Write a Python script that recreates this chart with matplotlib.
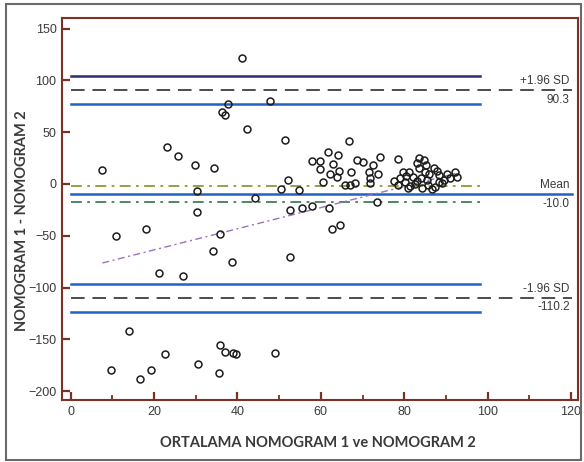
import numpy as np
import matplotlib
matplotlib.use("Agg")
import matplotlib.pyplot as plt
from matplotlib.patches import Rectangle
from matplotlib.ticker import MultipleLocator

# Average of the two nomograms vs. their difference (Bland-Altman)
mean_vals = [
    7.6, 10.8, 18.1, 23.1, 25.8, 29.8, 34.4, 30.3, 30.4, 36.4, 37.0, 37.7, 41.1, 42.3, 44.2,
    47.8, 51.4, 52.1, 50.5, 52.6, 54.8, 55.4, 58.0, 62.0, 62.7, 64.6, 52.6, 35.9, 34.2, 38.6,
    21.1, 27.0, 13.9, 35.8, 37.0, 38.9, 39.7, 22.7, 30.6, 9.7, 19.2, 35.5, 16.5, 49.0,
    66.7, 61.6, 64.2, 57.8, 59.8, 62.9, 68.6, 70.2, 74.2, 72.5, 59.7, 64.3, 62.1, 67.2,
    71.6, 73.8, 63.8, 71.8, 60.5, 65.8, 67.0, 68.2, 71.7, 73.4,
    78.4, 83.5, 84.7, 83.1, 85.3, 83.5, 87.1, 79.6, 81.2, 82.2, 84.1, 88.3, 90.3, 92.2,
    92.6, 91.1, 79.0, 80.2, 78.6, 82.6, 85.8, 87.4, 85.5, 88.3, 89.5, 81.0, 84.3, 86.6,
    80.5, 86.0, 89.0, 83.0, 77.5, 81.5, 87.8, 84.9,
]
diff_vals = [
    13.5, -50.5, -43.4, 36.0, 27.0, 18.0, 15.4, -6.4, -27.3, 69.8, 66.9, 77.5, 122.0, 52.8, -13.5,
    80.1, 42.5, 3.9, -5.1, -25.0, -5.8, -22.9, -21.2, -23.2, -43.7, -39.9, -70.2, -48.6, -64.4, -75.0,
    -86.2, -88.8, -141.6, -155.4, -162.2, -163.4, -164.4, -164.4, -173.5, -179.2, -179.2, -182.7, -188.2, -162.8,
    41.5, 31.2, 28.0, 22.5, 22.5, 19.3, 23.2, 21.5, 25.8, 18.3, 14.2, 12.8, 9.7, 11.3,
    11.9, 9.7, 6.5, 5.5, 2.2, -1.0, -1.0, 0.7, 0.7, -17.4,
    24.1, 25.4, 23.2, 20.0, 18.3, 15.2, 15.7, 11.3, 11.3, 7.0, 5.5, 8.7, 9.4, 11.3,
    7.0, 5.5, 5.5, 1.6, -1.0, -0.3, -1.0, -2.6, 3.9, 2.2, 3.9, -4.2, -4.2, -4.8,
    8.0, 9.5, 0.5, 2.5, 3.0, -2.0, 12.5, 12.0,
]

# Agreement limits and their 95% confidence intervals
mean_diff = -10.0
upper_loa = 90.3
lower_loa = -110.2
mean_ci = (-17.8, -2.2)
upper_loa_ci = (76.8, 103.8)
lower_loa_ci = (-123.7, -96.7)

# Regression of difference on average
reg_intercept = -84.0
reg_slope = 1.02

x_ticks = [0, 20, 40, 60, 80, 100, 120]
y_ticks = [-200, -150, -100, -50, 0, 50, 100, 150]

brown = "#7b3222"
blue = "#1f62c8"
navy = "#2b2f6a"
text_col = "#3a3a3a"
narrow = ["Liberation Sans Narrow", "Liberation Sans", "DejaVu Sans"]

fig = plt.figure(figsize=(5.84, 4.62), dpi=100)
fig.patch.set_facecolor("white")
fig.patches.append(Rectangle((6 / 584, 2 / 462), 575 / 584, 456 / 462, transform=fig.transFigure,
                             fill=False, edgecolor="#6a6a6a", linewidth=1.5))

ax = fig.add_axes([62 / 584, 62 / 462, 516 / 584, 382 / 462])
ax.set_xlim(-2.1, 121.7)
ax.set_ylim(-208.5, 160.2)

x_end_ci = 98.2
x_end_full = 120.3

# limits of agreement (dashed) and mean (solid), full width
ax.plot([0, x_end_full], [upper_loa, upper_loa], color="#4d4d4d", lw=1.4, ls=(0, (7, 4)))
ax.plot([0, x_end_full], [lower_loa, lower_loa], color="#4d4d4d", lw=1.4, ls=(0, (7, 4)))
ax.plot([0, x_end_full], [mean_diff, mean_diff], color=blue, lw=1.8)

# confidence intervals
ax.plot([0, x_end_ci], [upper_loa_ci[1]] * 2, color=navy, lw=1.8)
ax.plot([0, x_end_ci], [upper_loa_ci[0]] * 2, color=blue, lw=1.8)
ax.plot([0, x_end_ci], [lower_loa_ci[1]] * 2, color=blue, lw=1.8)
ax.plot([0, x_end_ci], [lower_loa_ci[0]] * 2, color=blue, lw=1.8)
ax.plot([0, x_end_ci], [mean_ci[1]] * 2, color="#8a9a3a", lw=1.3, ls=(0, (6, 3, 1.5, 3)))
ax.plot([0, x_end_ci], [mean_ci[0]] * 2, color="#3f7f5a", lw=1.3, ls=(0, (6, 3, 1.5, 3)))

# regression line over the range of averages
xr = np.array([min(mean_vals), max(mean_vals)])
ax.plot(xr, reg_intercept + reg_slope * xr, color="#a070c0", lw=1.0, ls=(0, (5, 2.5, 1.5, 2.5)))

ax.plot(mean_vals, diff_vals, ls="none", marker="o", markersize=5.0, markerfacecolor="none",
        markeredgecolor="#1c1c1c", markeredgewidth=1.1, zorder=5)

# line labels on the right
lab_kw = dict(ha="right", va="center", fontsize=8.5, color=text_col, family=narrow)
x_lab = 119.7
ax.text(x_lab, upper_loa + 9, "+1.96 SD", **lab_kw)
ax.text(x_lab, upper_loa - 9, f"{upper_loa:.1f}", **lab_kw)
ax.text(x_lab, mean_diff + 9, "Mean", **lab_kw)
ax.text(x_lab, mean_diff - 9, f"{mean_diff:.1f}", **lab_kw)
ax.text(x_lab, lower_loa + 9, "-1.96 SD", **lab_kw)
ax.text(x_lab, lower_loa - 9, f"{lower_loa:.1f}", **lab_kw)

for side in ["top", "right", "left", "bottom"]:
    ax.spines[side].set_color(brown)
    ax.spines[side].set_linewidth(1.5)

ax.set_xticks(x_ticks)
ax.set_yticks(y_ticks)
ax.xaxis.set_minor_locator(MultipleLocator(10))
ax.tick_params(axis="both", which="major", direction="in", length=6, width=1.6, color=brown,
               labelsize=9, labelcolor=text_col, pad=4)
ax.tick_params(axis="x", which="minor", direction="in", length=3.5, width=1.3, color=brown)
for lab in ax.get_xticklabels() + ax.get_yticklabels():
    lab.set_family(narrow)

ax.set_xlabel("ORTALAMA NOMOGRAM 1 ve NOMOGRAM 2", fontsize=10.5, fontweight="bold",
              color=text_col, family=["Lato", "DejaVu Sans"])
ax.set_ylabel("NOMOGRAM 1 - NOMOGRAM 2", fontsize=10.5, fontweight="bold",
              color=text_col, family=["Lato", "DejaVu Sans"])
ax.xaxis.set_label_coords(0.496, -0.093)
ax.yaxis.set_label_coords(-0.064, 0.47)

fig.savefig("out.png", dpi=100)
